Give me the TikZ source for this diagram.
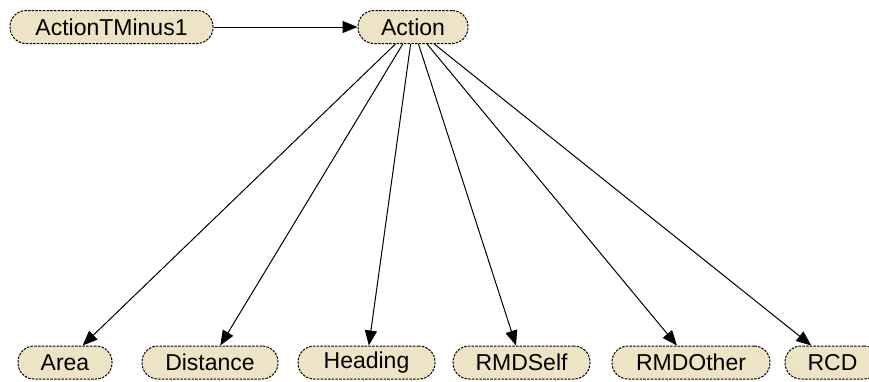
\documentclass[tikz,border=0pt]{standalone}
\usepackage{fontspec}
\setmainfont{Liberation Sans}
\usetikzlibrary{arrows.meta}
\definecolor{nodefill}{RGB}{236,228,196}
\begin{document}
\begin{tikzpicture}[x=1pt,y=-1pt,
  var/.style={draw=black, line width=1pt, dash pattern=on 2.5pt off 1.2pt, fill=nodefill,
    rounded corners=16pt, minimum height=33pt, inner sep=0pt,
    font=\fontsize{23}{26}\selectfont},
  edge/.style={line width=1pt, -{Triangle[length=15pt,width=12pt]}}
]
\useasboundingbox (0,0) rectangle (869,381);
\node[var, minimum width=203pt] (atm1) at (111.5,27) {ActionTMinus1};
\node[var, minimum width=110pt] (action) at (413,27) {Action};
\node[var, minimum width=94pt] (area) at (65,362.5) {Area};
\node[var, minimum width=136pt] (distance) at (210,362.5) {Distance};
\node[var, minimum width=137pt] (heading) at (366.5,362.5) {Heading};
\node[var, minimum width=137pt] (rmdself) at (521.5,362.5) {RMDSelf};
\node[var, minimum width=158pt] (rmdother) at (691,362.5) {RMDOther};
\node[var, minimum width=95pt] (rcd) at (832.5,362.5) {RCD};
\draw[edge] (atm1) -- (action);
\foreach \t in {area,distance,heading,rmdself,rmdother,rcd}
  \draw[edge] (action) -- (\t);
\end{tikzpicture}
\end{document}
